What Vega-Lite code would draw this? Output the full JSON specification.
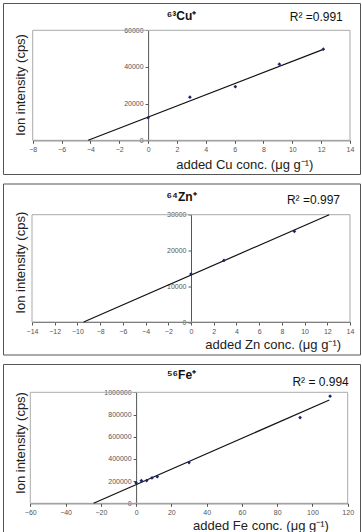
{
  "$schema": "https://vega.github.io/schema/vega-lite/v6.json",
  "padding": {"left": 2, "top": 2, "right": 0, "bottom": 0},
  "spacing": 7.5,
  "config": {
    "font": "Liberation Sans",
    "view": {"stroke": "#555555", "strokeWidth": 1},
    "axis": {
      "labelFontSize": 7, "labelColor": "#555555", "labelFont": "Liberation Sans",
      "tickSize": 3, "tickColor": "#555555", "domainColor": "#555555",
      "labelPadding": 2, "grid": false, "tickCount": 30,
      "titleFontSize": 13, "titleFontWeight": "normal", "titleColor": "#222222",
      "titleFont": "Liberation Sans", "titleBaseline": "middle", "titleAlign": "center",
      "labelFlush": false, "labelOverlap": false
    },
    "title": {"fontSize": 12, "fontWeight": "bold", "anchor": "middle", "frame": "group", "baseline": "middle", "color": "#111111", "font": "Liberation Sans"}
  },
  "datasets": {
    "cu": [{"x": 0, "y": 12300}, {"x": 2.9, "y": 23500}, {"x": 6.05, "y": 29250}, {"x": 9.1, "y": 41500}, {"x": 12.15, "y": 49700}],
    "cufit": [{"x": -4.15, "y": 0}, {"x": 12.15, "y": 49600}],
    "zn": [{"x": 0, "y": 13400}, {"x": 2.9, "y": 17200}, {"x": 9.1, "y": 25350}],
    "znfit": [{"x": -9.45, "y": 0}, {"x": 12.17, "y": 30000}],
    "fe": [{"x": 0, "y": 185000}, {"x": 3, "y": 204000}, {"x": 6, "y": 205000}, {"x": 9, "y": 228000}, {"x": 12, "y": 240000}, {"x": 30, "y": 367000}, {"x": 93, "y": 772000}, {"x": 110, "y": 965000}],
    "fefit": [{"x": -24.1, "y": 0}, {"x": 109.6, "y": 931000}],
    "cur2": [{"label": "R² =0.991"}],
    "znr2": [{"label": "R² =0.997"}],
    "fer2": [{"label": "R² = 0.994"}]
  },
  "vconcat": [
    {
      "width": 357, "height": 171,
      "title": {"text": "⁶³Cu⁺", "offset": -20, "fontSize": 12},
      "layer": [
        {
          "data": {"name": "cur2"},
          "mark": {"type": "rect", "filled": false, "stroke": "#aaaaaa", "strokeWidth": 1},
          "encoding": {
            "x": {"datum": -8, "type": "quantitative",
                  "scale": {"domain": [-8, 14], "range": [29.7, 347], "nice": false, "zero": false},
                  "axis": {"orient": "bottom", "offset": -33.7, "values": [-8,-6,-4,-2,0,2,4,6,8,10,12,14], "tickCount": 30, "title": "added Cu conc. (μg g⁻¹)", "titleX": 241.3, "titleY": 23.7}},
            "x2": {"datum": 14},
            "y": {"datum": 0, "type": "quantitative",
                  "scale": {"domain": [0, 60000], "range": [137.3, 27.3], "nice": false, "zero": false},
                  "axis": {"orient": "left", "offset": -145.1, "values": [0, 20000, 40000, 60000], "tickCount": 30, "format": "d", "title": "Ion intensity (cps)", "titleX": -127.6, "titleY": 81.5}},
            "y2": {"datum": 60000}
          }
        },
        {
          "data": {"name": "cufit"},
          "mark": {"type": "line", "color": "#111111", "strokeWidth": 1.2},
          "encoding": {"x": {"field": "x", "type": "quantitative"}, "y": {"field": "y", "type": "quantitative"}}
        },
        {
          "data": {"name": "cu"},
          "mark": {"type": "point", "shape": "diamond", "filled": true, "color": "#1b2470", "size": 14, "opacity": 1},
          "encoding": {"x": {"field": "x", "type": "quantitative"}, "y": {"field": "y", "type": "quantitative"}}
        },
        {
          "data": {"name": "cur2"},
          "mark": {"type": "text", "align": "right", "baseline": "middle", "fontSize": 12, "color": "#111111", "clip": false},
          "encoding": {"text": {"field": "label"}, "x": {"datum": 13.5, "type": "quantitative"}, "y": {"datum": 67500, "type": "quantitative"}}
        }
      ]
    },
    {
      "width": 357, "height": 171,
      "title": {"text": "⁶⁴Zn⁺", "offset": -20.5, "fontSize": 12},
      "layer": [
        {
          "data": {"name": "znr2"},
          "mark": {"type": "rect", "filled": false, "stroke": "#aaaaaa", "strokeWidth": 1},
          "encoding": {
            "x": {"datum": -14, "type": "quantitative",
                  "scale": {"domain": [-14, 14], "range": [29, 347], "nice": false, "zero": false},
                  "axis": {"orient": "bottom", "offset": -32.5, "values": [-14,-12,-10,-8,-6,-4,-2,0,2,4,6,8,10,12,14], "tickCount": 30, "title": "added Zn conc. (μg g⁻¹)", "titleX": 269.7, "titleY": 22.7}},
            "x2": {"datum": 14},
            "y": {"datum": 0, "type": "quantitative",
                  "scale": {"domain": [0, 30000], "range": [138.5, 31.2], "nice": false, "zero": false},
                  "axis": {"orient": "left", "offset": -188, "values": [0, 10000, 20000, 30000], "tickCount": 30, "format": "d", "title": "Ion intensity (cps)", "titleX": -170.8, "titleY": 78.7}},
            "y2": {"datum": 30000}
          }
        },
        {
          "data": {"name": "znfit"},
          "mark": {"type": "line", "color": "#111111", "strokeWidth": 1.2},
          "encoding": {"x": {"field": "x", "type": "quantitative"}, "y": {"field": "y", "type": "quantitative"}}
        },
        {
          "data": {"name": "zn"},
          "mark": {"type": "point", "shape": "diamond", "filled": true, "color": "#1b2470", "size": 14, "opacity": 1},
          "encoding": {"x": {"field": "x", "type": "quantitative"}, "y": {"field": "y", "type": "quantitative"}}
        },
        {
          "data": {"name": "znr2"},
          "mark": {"type": "text", "align": "right", "baseline": "middle", "fontSize": 12, "color": "#111111", "clip": false},
          "encoding": {"text": {"field": "label"}, "x": {"datum": 13.12, "type": "quantitative"}, "y": {"datum": 34194, "type": "quantitative"}}
        }
      ]
    },
    {
      "width": 357, "height": 171,
      "title": {"text": "⁵⁶Fe⁺", "offset": -17.7, "fontSize": 12},
      "layer": [
        {
          "data": {"name": "fer2"},
          "mark": {"type": "rect", "filled": false, "stroke": "#aaaaaa", "strokeWidth": 1},
          "encoding": {
            "x": {"datum": -60, "type": "quantitative",
                  "scale": {"domain": [-60, 120], "range": [27.3, 344.7], "nice": false, "zero": false},
                  "axis": {"orient": "bottom", "offset": -31.7, "values": [-60,-40,-20,0,20,40,60,80,100,120], "tickCount": 30, "title": "added Fe conc. (μg g⁻¹)", "titleX": 257.5, "titleY": 21.7}},
            "x2": {"datum": 120},
            "y": {"datum": 0, "type": "quantitative",
                  "scale": {"domain": [0, 1000000], "range": [139.3, 28.3], "nice": false, "zero": false},
                  "axis": {"orient": "left", "offset": -133.1, "values": [0, 200000, 400000, 600000, 800000, 1000000], "tickCount": 30, "format": "d", "title": "Ion intensity (cps)", "titleX": -115.6, "titleY": 78.5}},
            "y2": {"datum": 1000000}
          }
        },
        {
          "data": {"name": "fefit"},
          "mark": {"type": "line", "color": "#111111", "strokeWidth": 1.2},
          "encoding": {"x": {"field": "x", "type": "quantitative"}, "y": {"field": "y", "type": "quantitative"}}
        },
        {
          "data": {"name": "fe"},
          "mark": {"type": "point", "shape": "diamond", "filled": true, "color": "#1b2470", "size": 14, "opacity": 1},
          "encoding": {"x": {"field": "x", "type": "quantitative"}, "y": {"field": "y", "type": "quantitative"}}
        },
        {
          "data": {"name": "fer2"},
          "mark": {"type": "text", "align": "right", "baseline": "middle", "fontSize": 12, "color": "#111111", "clip": false},
          "encoding": {"text": {"field": "label"}, "x": {"datum": 120.6, "type": "quantitative"}, "y": {"datum": 1095500, "type": "quantitative"}}
        }
      ]
    }
  ]
}
